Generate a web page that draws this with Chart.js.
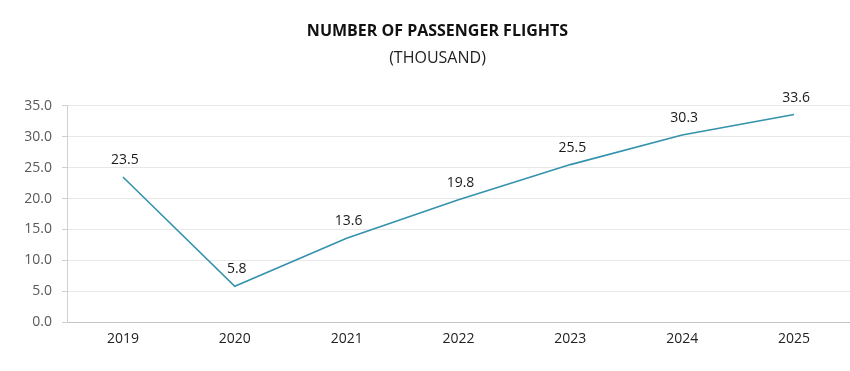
<!DOCTYPE html>
<html>
<head>
<meta charset="utf-8">
<script src="https://cdn.jsdelivr.net/npm/chart.js@4/dist/chart.umd.min.js"></script>
<style>
  html, body { margin: 0; padding: 0; background: #fff; }
  #wrap { width: 850px; height: 371px; }
</style>
</head>
<body>
<div id="wrap"><canvas id="chart"></canvas></div>
<script>
// chart data
var years = ["2019", "2020", "2021", "2022", "2023", "2024", "2025"];
var flights = [23.5, 5.8, 13.6, 19.8, 25.5, 30.3, 33.6];
var yMin = 0;
var yMax = 35;
var yStep = 5;

var titleText = "NUMBER OF PASSENGER FLIGHTS";
var subtitleText = "(THOUSAND)";

// labels above every point
var pointLabels = {
    id: "pointLabels",
    afterDatasetsDraw: function (chart) {
        var ctx = chart.ctx;
        var meta = chart.getDatasetMeta(0);
        ctx.save();
        ctx.font = "14px 'Open Sans'";
        ctx.fillStyle = "#1a1a1a";
        ctx.textAlign = "center";
        ctx.textBaseline = "middle";
        meta.data.forEach(function (pt, i) {
            ctx.fillText(flights[i].toFixed(1), pt.x + 2, pt.y - 17);
        });
        ctx.restore();
    }
};

var ctx = document.getElementById("chart").getContext("2d");
var chart = new Chart(ctx, {
    type: "line",
    data: {
        labels: years,
        datasets: [{
            data: flights,
            borderColor: "#3592ad",
            borderWidth: 1.6,
            pointRadius: 0,
            tension: 0,
            fill: false
        }]
    },
    options: {
        responsive: true,
        maintainAspectRatio: false,
        animation: false,
        layout: {
            padding: { left: 25, right: 0, top: 0, bottom: 16 }
        },
        plugins: {
            legend: { display: false },
            tooltip: { enabled: false },
            title: {
                display: true,
                text: titleText,
                color: "#111",
                font: { family: "'Open Sans'", size: 16, weight: "bold" },
                padding: { top: 22, bottom: 8 }
            },
            subtitle: {
                display: true,
                text: subtitleText,
                color: "#222",
                font: { family: "'Open Sans'", size: 16 },
                padding: { top: 0, bottom: 37.5 }
            }
        },
        scales: {
            x: {
                offset: true,
                grid: { display: false, drawTicks: false },
                border: { display: true, color: "#c4c4c4", width: 1 },
                ticks: {
                    color: "#222",
                    padding: 8,
                    font: { family: "'Open Sans'", size: 14 }
                }
            },
            y: {
                min: yMin,
                max: yMax,
                afterFit: function (scale) { scale.width = 42; },
                grid: {
                    color: "#e8e8e8",
                    tickLength: 5,
                    tickColor: "#d0d0d0"
                },
                border: { display: true, color: "#d0d0d0", width: 1 },
                ticks: {
                    stepSize: yStep,
                    color: "#595959",
                    padding: 10,
                    font: { family: "'Open Sans'", size: 14 },
                    callback: function (v) { return v.toFixed(1); }
                }
            }
        }
    },
    plugins: [pointLabels]
});
</script>
</body>
</html>
